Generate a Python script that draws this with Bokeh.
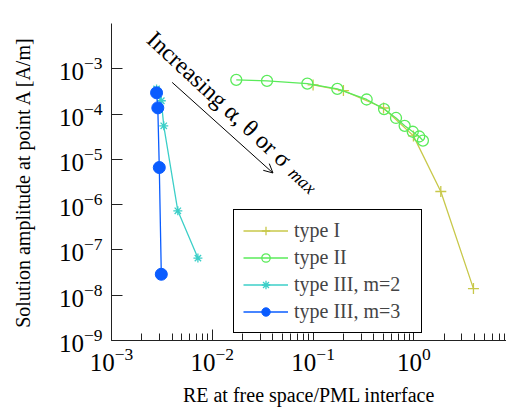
from bokeh.plotting import figure
from bokeh.models import (Range1d, FixedTicker, Legend, LegendItem, Label, Arrow, OpenHead)
from bokeh.embed import file_html
from bokeh.resources import INLINE

# ---- data ----
type1_x = [0.1, 0.2, 0.5, 0.99, 1.85, 3.9]
type1_y = [4.4e-4, 3.3e-4, 1.36e-4, 3.3e-5, 1.95e-6, 1.4e-8]

type2_x = [0.0173, 0.0349, 0.0877, 0.174, 0.34, 0.506, 0.665, 0.81, 0.975, 1.13, 1.23]
type2_y = [5.7e-4, 5.4e-4, 4.7e-4, 3.6e-4, 2.1e-4, 1.29e-4, 8.2e-5, 5.5e-5, 4.07e-5, 3.2e-5, 2.6e-5]

type3m2_x = [2.8e-3, 3.12e-3, 3.3e-3, 4.55e-3, 7.2e-3]
type3m2_y = [3.6e-4, 1.97e-4, 5.5e-5, 7.3e-7, 6.6e-8]

type3m3_x = [2.8e-3, 2.88e-3, 2.98e-3, 3.12e-3]
type3m3_y = [2.95e-4, 1.37e-4, 6.6e-6, 2.9e-8]

series_labels = ["type I", "type II", "type III, m=2", "type III, m=3"]
series_colors = ["#c8c84a", "#5aeb5a", "#3ccfc8", "#0a5cff"]

x_major = [1e-3, 1e-2, 1e-1, 1.0]
y_major = [1e-9, 1e-8, 1e-7, 1e-6, 1e-5, 1e-4, 1e-3]

annot_text = "Increasing α, θ or σ"
annot_sub = "max"
annot_pos = (2.45e-3, 5.4e-3)
annot_sub_pos = (0.0783, 3.4e-6)
arrow_start = (4e-3, 5e-4)
arrow_end = (4e-2, 5e-6)

FONT = "Liberation Serif"

p = figure(width=506, height=409, x_axis_type="log", y_axis_type="log",
           output_backend="svg", toolbar_location=None,
           x_range=Range1d(1e-3, 10 ** 0.919), y_range=Range1d(1e-9, 1e-2),
           min_border_left=111, min_border_right=0, min_border_top=23, min_border_bottom=69)
p.outline_line_color = None
p.grid.visible = False
p.background_fill_color = "white"
p.border_fill_color = "white"

minor = [m * d for d in [1e-3, 1e-2, 1e-1, 1.0] for m in range(2, 10)]
p.xaxis.ticker = FixedTicker(ticks=x_major, minor_ticks=minor)
p.yaxis.ticker = FixedTicker(ticks=y_major, minor_ticks=[])

for ax in (p.xaxis[0], p.yaxis[0]):
    ax.major_tick_in = 11
    ax.major_tick_out = 0
    ax.minor_tick_in = 7
    ax.minor_tick_out = 0
    ax.axis_line_color = "#222222"
    ax.major_tick_line_color = "#222222"
    ax.minor_tick_line_color = "#222222"
    ax.major_label_text_font = FONT
    ax.major_label_text_font_size = "25px"
    ax.major_label_text_color = "black"
    ax.axis_label_text_font = FONT
    ax.axis_label_text_font_size = "20px"
    ax.axis_label_text_font_style = "normal"
    ax.axis_label_text_color = "black"

p.xaxis.axis_label = "RE at free space/PML interface"
p.yaxis.axis_label = "Solution amplitude at point A [A/m]"
p.xaxis.major_label_standoff = 7
p.yaxis.major_label_standoff = 9
p.xaxis.axis_label_standoff = 10
p.yaxis.axis_label_standoff = 22

lw = 1.3
items = []
l1 = p.line(type1_x, type1_y, line_color=series_colors[0], line_width=lw)
s1 = p.scatter(type1_x, type1_y, marker="cross", size=11, line_color=series_colors[0], line_width=lw)
items.append(LegendItem(label=series_labels[0], renderers=[l1, s1]))

l2 = p.line(type2_x, type2_y, line_color=series_colors[1], line_width=lw)
s2 = p.scatter(type2_x, type2_y, marker="circle", size=11, line_color=series_colors[1],
               fill_color=None, line_width=lw)
items.append(LegendItem(label=series_labels[1], renderers=[l2, s2]))

l3 = p.line(type3m2_x, type3m2_y, line_color=series_colors[2], line_width=lw)
s3 = p.scatter(type3m2_x, type3m2_y, marker="asterisk", size=9, line_color=series_colors[2], line_width=lw)
items.append(LegendItem(label=series_labels[2], renderers=[l3, s3]))

l4 = p.line(type3m3_x, type3m3_y, line_color=series_colors[3], line_width=lw)
s4 = p.scatter(type3m3_x, type3m3_y, marker="circle", size=12, line_color=series_colors[3],
               fill_color=series_colors[3], line_width=1)
items.append(LegendItem(label=series_labels[3], renderers=[l4, s4]))

legend = Legend(items=items, location=(122, 7), label_text_font=FONT, label_text_font_size="20px",
                label_height=21, glyph_height=21, glyph_width=45, spacing=4, padding=9,
                label_standoff=6, label_width=118, border_line_color="black", border_line_width=1,
                border_line_alpha=1, background_fill_color="white", background_fill_alpha=1)
p.add_layout(legend, "center")

p.add_layout(Arrow(x_start=arrow_start[0], y_start=arrow_start[1], x_end=arrow_end[0], y_end=arrow_end[1],
                   line_width=1, line_color="black",
                   end=OpenHead(size=9, line_width=1, line_color="black")))

ang = -0.749
p.add_layout(Label(x=annot_pos[0], y=annot_pos[1], text=annot_text, angle=ang, angle_units="rad",
                   text_font=FONT, text_font_size="24px", text_align="left", text_baseline="middle",
                   text_color="black"))
p.add_layout(Label(x=annot_sub_pos[0], y=annot_sub_pos[1], text=annot_sub, angle=ang, angle_units="rad",
                   text_font=FONT, text_font_size="18px", text_font_style="italic",
                   text_align="center", text_baseline="middle", text_color="black"))

open("out.html", "w").write(file_html(p, INLINE))
